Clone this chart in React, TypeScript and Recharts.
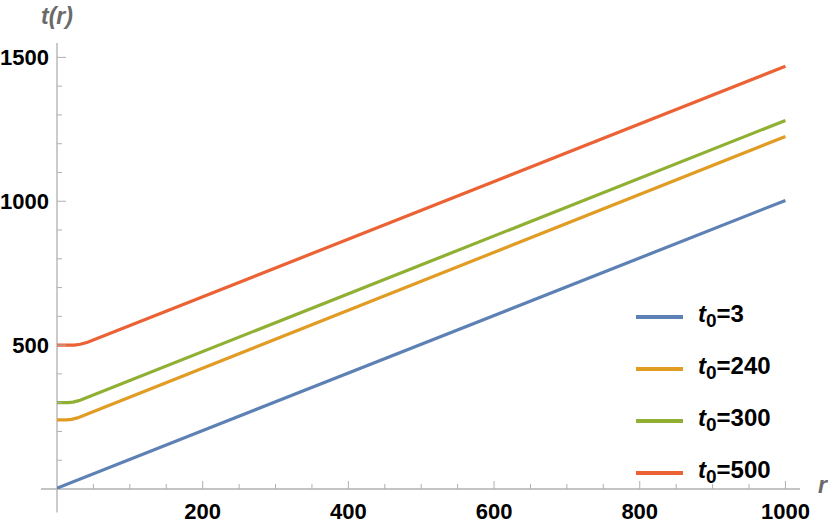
import { LineChart, Line, XAxis, YAxis, ReferenceLine, Legend } from "recharts";

// series: r values and matching t values
const rT3 = [0, 1000];
const tT3 = [3, 1003];
const rT240 = [0, 13, 20, 28, 1000];
const tT240 = [240, 240, 242, 247, 1225];
const rT300 = [0, 15, 22, 30, 1000];
const tT300 = [300, 300, 302, 307, 1281];
const rT500 = [0, 24, 32, 42, 1000];
const tT500 = [500, 500, 503, 510, 1469];

const seriesNames = ["3", "240", "300", "500"];
const seriesColors = ["#5E81B5", "#E19C24", "#8FB032", "#EB6235"];

const xTicks = Array.from({ length: 20 }, (_, i) => (i + 1) * 50);
const yTicks = Array.from({ length: 15 }, (_, i) => (i + 1) * 100);
const xLabelEvery = 200;
const yLabelEvery = 500;

const toPoints = (rs: number[], ts: number[]) => rs.map((r, i) => ({ r, t: ts[i] }));

const series = [
  toPoints(rT3, tT3),
  toPoints(rT240, tT240),
  toPoints(rT300, tT300),
  toPoints(rT500, tT500),
];

const AXIS = "#b0b0b0";
const FONT = '"Liberation Sans", Arial, sans-serif';

function XTick(props: any) {
  const { x, y, payload } = props;
  const major = payload.value % xLabelEvery === 0;
  return (
    <g>
      <line x1={x} x2={x} y1={y} y2={y - (major ? 8 : 5)} stroke={AXIS} strokeWidth={1} />
      {major && (
        <text x={x} y={y + 30} textAnchor="middle" fontFamily={FONT} fontWeight="bold" fontSize={22} fill="#000">
          {payload.value}
        </text>
      )}
    </g>
  );
}

function YTick(props: any) {
  const { x, y, payload } = props;
  const major = payload.value % yLabelEvery === 0;
  return (
    <g>
      <line x1={x} x2={x + (major ? 9 : 5)} y1={y} y2={y} stroke={AXIS} strokeWidth={1} />
      {major && (
        <text x={x - 8} y={y} dy="0.36em" textAnchor="end" fontFamily={FONT} fontWeight="bold" fontSize={22} fill="#000">
          {payload.value}
        </text>
      )}
    </g>
  );
}

function LegendBox(props: any) {
  const items = [...(props.payload || [])].sort(
    (a: any, b: any) => seriesNames.indexOf(a.value) - seriesNames.indexOf(b.value)
  );
  return (
    <div style={{ fontFamily: FONT, fontWeight: "bold", fontSize: 24, textAlign: "left" }}>
      {items.map((it: any) => (
        <div key={it.value} style={{ display: "flex", alignItems: "center", height: 52 }}>
          <div style={{ width: 47, height: 3.3, background: it.color, marginRight: 15 }} />
          <span style={{ color: "#000", lineHeight: "24px" }}>
            <i>t</i>
            <sub style={{ fontSize: 19, verticalAlign: "-5px" }}>0</sub>={it.value}
          </span>
        </div>
      ))}
    </div>
  );
}

export default function App() {
  return (
    <div style={{ position: "absolute", left: 0, top: 0, width: 830, height: 528, background: "#fff" }}>
      <LineChart width={830} height={528} margin={{ top: 43, right: 30, left: 0, bottom: 9 }}>
        <XAxis
          dataKey="r"
          type="number"
          domain={[0, 1020]}
          ticks={xTicks}
          interval={0}
          allowDataOverflow
          axisLine={false}
          tickLine={false}
          tickSize={0}
          tickMargin={0}
          height={30}
          tick={<XTick />}
        />
        <YAxis
          dataKey="t"
          type="number"
          domain={[0, 1550]}
          ticks={yTicks}
          interval={0}
          allowDataOverflow
          axisLine={false}
          tickLine={false}
          tickSize={0}
          tickMargin={0}
          width={57}
          tick={<YTick />}
        />
        <ReferenceLine
          segment={[{ x: -22, y: 0 }, { x: 1020, y: 0 }]}
          stroke={AXIS}
          strokeWidth={1.3}
          ifOverflow="visible"
        />
        <ReferenceLine
          segment={[{ x: 0, y: -82 }, { x: 0, y: 1550 }]}
          stroke={AXIS}
          strokeWidth={1.3}
          ifOverflow="visible"
        />
        {series.map((d, i) => (
          <Line
            key={seriesNames[i]}
            data={d}
            dataKey="t"
            name={seriesNames[i]}
            type="linear"
            stroke={seriesColors[i]}
            strokeWidth={3.2}
            dot={false}
            isAnimationActive={false}
          />
        ))}
        <Legend
          layout="vertical"
          verticalAlign="middle"
          align="center"
          content={<LegendBox />}
          wrapperStyle={{ position: "absolute", left: 636, top: 291, width: 190 }}
        />
      </LineChart>
      <div
        style={{
          position: "absolute",
          left: 39,
          top: 3,
          width: 36,
          textAlign: "center",
          fontFamily: FONT,
          fontWeight: "bold",
          fontStyle: "italic",
          fontSize: 23,
          color: "#6a6a6a",
        }}
      >
        t(r)
      </div>
      <div
        style={{
          position: "absolute",
          left: 818,
          top: 472,
          fontFamily: FONT,
          fontWeight: "bold",
          fontStyle: "italic",
          fontSize: 23,
          color: "#6a6a6a",
        }}
      >
        r
      </div>
    </div>
  );
}
